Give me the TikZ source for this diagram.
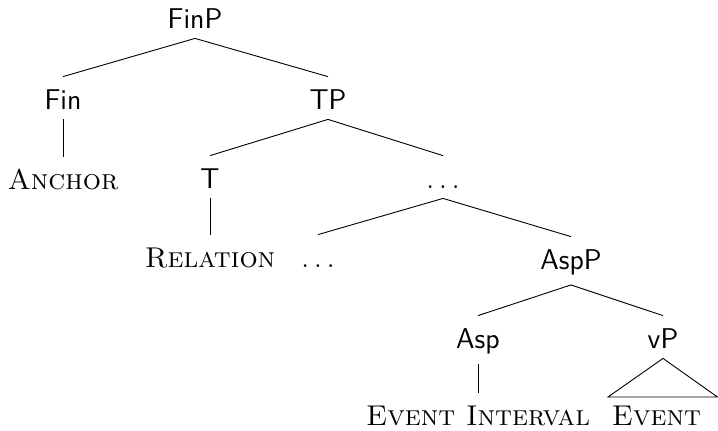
\documentclass[tikz,border=0pt]{standalone}
\usepackage{fontspec}
\tikzset{
  cat/.style={font=\fontsize{14.3}{17}\selectfont\sffamily, anchor=base, inner xsep=1pt, inner ysep=5pt, text height=11pt},
  lex/.style={font=\fontsize{14.3}{17}\selectfont\scshape, anchor=base, inner xsep=1pt, inner ysep=5pt, text height=11pt},
  branch/.style={line width=0.45pt, black}
}
\newcommand{\mydots}{\textrm{.\kern2.5pt.\kern2.5pt.}}
\begin{document}
\begin{tikzpicture}[x=0.5pt,y=-0.5pt]
\useasboundingbox (0,0) rectangle (718,430);
\node[cat] (FinP) at (195,28) {FinP};
\node[cat] (Fin) at (63,109) {Fin};
\node[cat] (TP) at (328,109) {TP};
\node[lex] (Anchor) at (63,189) {Anchor};
\node[cat] (T) at (210,188) {T};
\node[cat] (D1) at (443,188) {\mydots};
\node[lex] (Relation) at (210,267) {Relation};
\node[cat] (D2) at (318,267) {\mydots};
\node[cat] (AspP) at (571,269) {AspP};
\node[cat] (Asp) at (478,348) {Asp};
\node[cat] (vP) at (663,348) {vP};
\node[lex] (EI) at (478,425) {Event Interval};
\node[lex] (Ev) at (656.5,425) {Event};
\coordinate (roofL) at (608,397);
\coordinate (roofR) at (717.5,397);
\draw[branch] (FinP.south) -- (Fin.north);
\draw[branch] (FinP.south) -- (TP.north);
\draw[branch] (Fin.south) -- (Anchor.north);
\draw[branch] (TP.south) -- (T.north);
\draw[branch] (TP.south) -- (D1.north);
\draw[branch] (T.south) -- (Relation.north);
\draw[branch] (D1.south) -- (D2.north);
\draw[branch] (D1.south) -- (AspP.north);
\draw[branch] (AspP.south) -- (Asp.north);
\draw[branch] (AspP.south) -- (vP.north);
\draw[branch] (Asp.south) -- (EI.north);
\draw[branch] (vP.south) -- (roofL) -- (roofR) -- cycle;
\end{tikzpicture}
\end{document}
